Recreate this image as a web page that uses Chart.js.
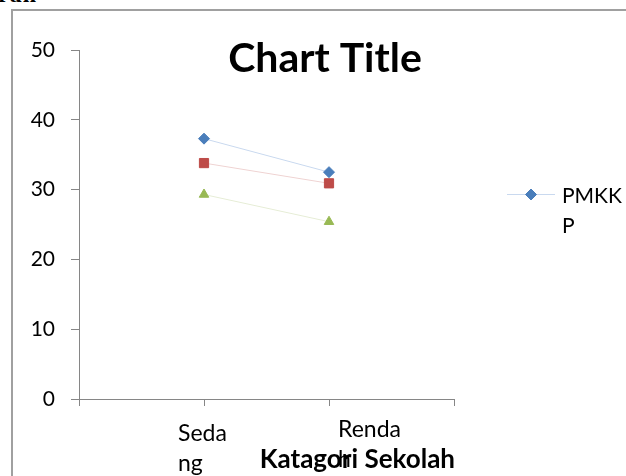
<!DOCTYPE html>
<html>
<head>
<meta charset="utf-8">
<script src="https://cdn.jsdelivr.net/npm/chart.js@4/dist/chart.umd.min.js"></script>
<style>
  html, body { margin: 0; padding: 0; background: #fff; width: 626px; height: 476px; overflow: hidden; }
  #cap { position: absolute; left: -2px; top: -19px; font: bold 24px "Liberation Serif", serif; color: #000; letter-spacing: 1px; }
  #frame { position: absolute; left: 11px; top: 9px; width: 700px; height: 600px;
           border-left: 2px solid #a0a0a0; border-top: 2px solid #a0a0a0; }
  #c { position: absolute; left: 0; top: 0; }
</style>
</head>
<body>
<div id="cap">ran</div>
<div id="frame"></div>
<canvas id="c" width="626" height="476"></canvas>
<script>
// Categories and wrapped tick labels
const categories = ['Sedang', 'Rendah'];
const xTickLabels = [['Seda', 'ng'], ['Renda', 'h']];
const yTickValues = [0, 10, 20, 30, 40, 50];

// Series values
const seriesNames = ['PMKKP', 'Seri 2', 'Seri 3'];
const pmkkp = [37.3, 32.5];
const seri2 = [33.8, 30.9];
const seri3 = [29.3, 25.4];

const chartTitle = 'Chart Title';
const xAxisTitle = 'Katagori Sekolah';

const FONT = 'Lato, "Open Sans", sans-serif';

// empty category slots on both ends so the points sit on the inner tick marks
const labels = ['', ...categories, ''];
const pad = arr => [null, ...arr, null];

const mk = (name, vals, line, fill, style, r) => ({
  label: name,
  data: pad(vals),
  borderColor: line,
  borderWidth: 1,
  backgroundColor: fill,
  pointStyle: style,
  pointRadius: r,
  pointHoverRadius: r,
  pointBackgroundColor: fill,
  pointBorderColor: fill,
  pointBorderWidth: 1,
  tension: 0,
  spanGaps: false
});

const datasets = [
  mk(seriesNames[0], pmkkp, '#c9d9ef', '#4a7ebb', 'rectRot', 5.5),
  mk(seriesNames[1], seri2, '#efd3d2', '#be4b48', 'rect', 6.5),
  mk(seriesNames[2], seri3, '#e6edd6', '#98b954', 'triangle', 5.5)
];

const decor = {
  id: 'decor',
  afterDraw(chart) {
    const ctx = chart.ctx;
    const xs = chart.scales.x;
    ctx.save();
    ctx.fillStyle = '#000';

    // chart title
    ctx.font = 'bold 41px ' + FONT;
    ctx.textAlign = 'center';
    ctx.textBaseline = 'alphabetic';
    ctx.fillText(chartTitle, 325, 72);

    // category labels (wrapped, left aligned block)
    ctx.font = '23px ' + FONT;
    ctx.textAlign = 'left';
    const shifts = [[-26, 441], [9, 437]];
    xTickLabels.forEach((lines, i) => {
      const x = xs.getPixelForValue(i + 1) + shifts[i][0];
      lines.forEach((t, k) => ctx.fillText(t, x, shifts[i][1] + k * 30));
    });

    // axis title
    ctx.font = 'bold 26px ' + FONT;
    ctx.textAlign = 'right';
    ctx.fillText(xAxisTitle, xs.right + 1, 468);

    // legend entry for the first series
    const ds = chart.data.datasets[0];
    const ly = 194;
    ctx.strokeStyle = ds.borderColor;
    ctx.lineWidth = 1;
    ctx.beginPath();
    ctx.moveTo(507, ly + 0.5);
    ctx.lineTo(555, ly + 0.5);
    ctx.stroke();
    ctx.fillStyle = ds.pointBackgroundColor;
    ctx.strokeStyle = ds.pointBorderColor;
    Chart.helpers.drawPoint(ctx, { pointStyle: ds.pointStyle, radius: ds.pointRadius, rotation: 0, borderWidth: 1 }, 531, ly + 0.5);
    ctx.fillStyle = '#000';
    ctx.font = '21px ' + FONT;
    ctx.textAlign = 'left';
    const name = ds.label;
    const legendLines = [name.slice(0, 4), name.slice(4)];
    legendLines.forEach((t, k) => ctx.fillText(t, 562, 203 + k * 30));
    ctx.restore();
  }
};

new Chart(document.getElementById('c'), {
  type: 'line',
  data: { labels, datasets },
  options: {
    responsive: false,
    animation: false,
    layout: { padding: { top: 50, right: 172, bottom: 0, left: 0 } },
    plugins: { legend: { display: false }, title: { display: false }, tooltip: { enabled: false } },
    scales: {
      x: {
        type: 'category',
        offset: false,
        grid: { display: true, drawOnChartArea: false, drawTicks: true, tickLength: 7, color: '#868686' },
        border: { display: true, color: '#868686', width: 1 },
        ticks: { display: false },
        afterFit(scale) { scale.height = 77; }
      },
      y: {
        min: 0,
        max: 50,
        afterBuildTicks(scale) { scale.ticks = yTickValues.map(v => ({ value: v })); },
        ticks: { color: '#000', font: { family: FONT, size: 21 }, padding: 16 },
        grid: { display: true, drawOnChartArea: false, drawTicks: true, tickLength: 8, color: '#868686' },
        border: { display: true, color: '#868686', width: 1 },
        afterFit(scale) { scale.width = 79; }
      }
    }
  },
  plugins: [decor]
});
</script>
</body>
</html>
